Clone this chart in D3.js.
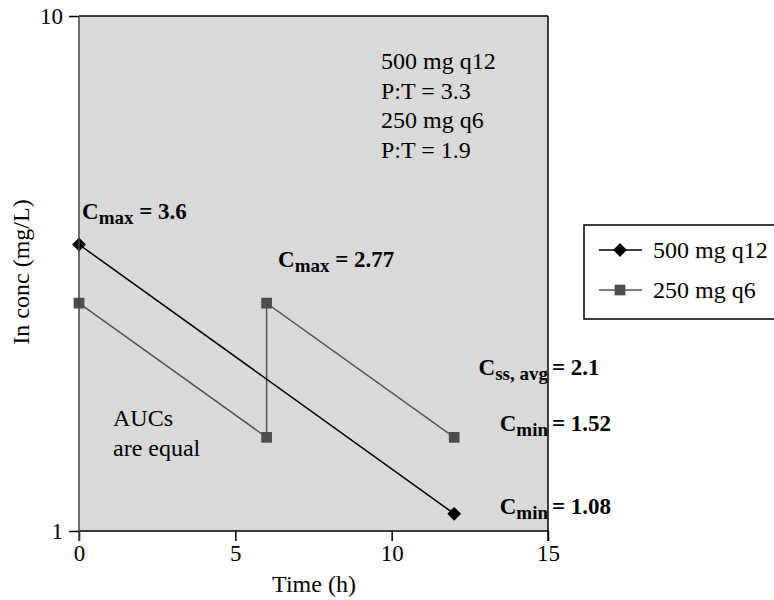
<!DOCTYPE html>
<html>
<head>
<meta charset="utf-8">
<script src="https://cdn.jsdelivr.net/npm/d3@7/dist/d3.min.js"></script>
<style>
  html, body { margin: 0; padding: 0; background: #fff; }
  svg { display: block; }
</style>
</head>
<body>
<div id="chart"></div>
<script>
// dosing regimens, conc on log scale
const series = ["500 mg q12", "250 mg q6"];
const times500 = [0, 12];
const conc500 = [3.6, 1.08];
const times250 = [0, 6, 6, 12];
const conc250 = [2.77, 1.52, 2.77, 1.52];
const xTicks = [0, 5, 10, 15];
const yTicks = [1, 10];
const infoLines = ["500 mg q12", "P:T = 3.3", "250 mg q6", "P:T = 1.9"];

const FONT = "'Liberation Serif', 'Times New Roman', serif";
const totalW = 774, totalH = 600;
const margin = { top: 16, right: 226, bottom: 69, left: 79 };
const W = totalW - margin.left - margin.right;
const H = totalH - margin.top - margin.bottom;

const svg = d3.select("#chart").append("svg")
  .attr("width", totalW).attr("height", totalH);
const g = svg.append("g").attr("transform", `translate(${margin.left},${margin.top})`);

const x = d3.scaleLinear().domain([0, 15]).range([0, W]);
const y = d3.scaleLog().domain([1, 10]).range([H, 0]);

g.append("rect").attr("width", W).attr("height", H).attr("fill", "#d9d9d9");

// axes
const xAxis = g.append("g").attr("transform", `translate(0,${H})`)
  .call(d3.axisBottom(x).tickValues(xTicks).tickSize(10).tickPadding(4).tickFormat(d3.format("d")));
const yAxis = g.append("g")
  .call(d3.axisLeft(y).tickValues(yTicks).tickSize(10).tickPadding(6).tickFormat(d3.format("d")));
[xAxis, yAxis].forEach(a => {
  a.select(".domain").remove();
  a.selectAll("line").attr("stroke", "#000").attr("stroke-width", 1.5);
  a.selectAll("text").attr("fill", "#000")
    .style("font-family", FONT).style("font-size", "23px");
});
yAxis.selectAll("text").attr("dy", "0.34em");

// frame
g.append("line").attr("x1", 0).attr("x2", W).attr("y1", 0).attr("y2", 0)
  .attr("stroke", "#000").attr("stroke-width", 1.5);
g.append("line").attr("x1", 0).attr("x2", W).attr("y1", H).attr("y2", H)
  .attr("stroke", "#000").attr("stroke-width", 1.5);

const line = d3.line().x(d => x(d[0])).y(d => y(d[1]));
const pts500 = times500.map((t, i) => [t, conc500[i]]);
const pts250 = times250.map((t, i) => [t, conc250[i]]);

g.append("path").datum(pts250).attr("d", line)
  .attr("fill", "none").attr("stroke", "#555").attr("stroke-width", 1.5);
g.append("path").datum(pts500).attr("d", line)
  .attr("fill", "none").attr("stroke", "#000").attr("stroke-width", 1.5);

const sq = d3.symbol().type(d3.symbolSquare).size(115);
const dia = d3.symbol().type(d3.symbolSquare).size(95);

g.selectAll("path.sq").data(pts250).join("path").attr("class", "sq")
  .attr("d", sq).attr("fill", "#4d4d4d")
  .attr("transform", d => `translate(${x(d[0])},${y(d[1])})`);
g.selectAll("path.dia").data(pts500).join("path").attr("class", "dia")
  .attr("d", dia).attr("fill", "#000")
  .attr("transform", d => `translate(${x(d[0])},${y(d[1])}) rotate(45)`);

// left frame line on top
g.append("line").attr("x1", 0).attr("x2", 0).attr("y1", 0).attr("y2", H + 10)
  .attr("stroke", "#444").attr("stroke-width", 1.5);

// info text block
const info = g.append("text").attr("fill", "#000")
  .style("font-family", FONT).style("font-size", "24px");
infoLines.forEach((t, i) => {
  info.append("tspan").attr("x", 302).attr("y", 53 + i * 29.5).text(t);
});

g.append("text").attr("fill", "#000").style("font-family", FONT).style("font-size", "24px")
  .call(t => {
    t.append("tspan").attr("x", 34).attr("y", 410).text("AUCs");
    t.append("tspan").attr("x", 34).attr("y", 440).text("are equal");
  });

// C labels (bold, subscripted)
function cLabel(px, py, sub, rest, anchorRight) {
  const t = g.append("text").attr("fill", "#000")
    .style("font-family", FONT).style("font-weight", "bold").style("font-size", "23px");
  t.attr("x", px).attr("y", py).attr("text-anchor", anchorRight ? "end" : "start");
  t.append("tspan").text("C");
  t.append("tspan").attr("dy", 5).style("font-size", "19px").text(sub);
  if (rest) t.append("tspan").attr("dy", -5).text(rest);
}
cLabel(3, 203, "max", " = 3.6");
cLabel(199, 251, "max", " = 2.77");
[["ss, avg", "= 2.1", 359], ["min", "= 1.52", 415], ["min", "= 1.08", 498]].forEach(([sub, rest, py]) => {
  cLabel(W, py, sub, null, true);
  g.append("text").attr("x", W + 4).attr("y", py).attr("fill", "#000")
    .style("font-family", FONT).style("font-weight", "bold").style("font-size", "23px")
    .text(rest);
});

g.append("line").attr("x1", W).attr("x2", W).attr("y1", 0).attr("y2", H + 10)
  .attr("stroke", "#000").attr("stroke-width", 1.5);

// axis titles
g.append("text").attr("x", 235).attr("y", H + 61).attr("text-anchor", "middle")
  .attr("fill", "#000").style("font-family", FONT).style("font-size", "24px")
  .text("Time (h)");
g.append("text").attr("transform", "rotate(-90)").attr("x", -256).attr("y", -50)
  .attr("text-anchor", "middle").attr("fill", "#000")
  .style("font-family", FONT).style("font-size", "24px")
  .text("In conc (mg/L)");

// legend
const lg = svg.append("g");
lg.append("rect").attr("x", 584).attr("y", 225).attr("width", 200).attr("height", 94)
  .attr("fill", "#fff").attr("stroke", "#000").attr("stroke-width", 1.5);
series.forEach((name, i) => {
  const ly = 250 + i * 40;
  const col = i === 0 ? "#000" : "#555";
  lg.append("line").attr("x1", 599).attr("x2", 642).attr("y1", ly).attr("y2", ly)
    .attr("stroke", col).attr("stroke-width", 1.5);
  lg.append("path").attr("d", i === 0 ? dia : sq).attr("fill", i === 0 ? "#000" : "#4d4d4d")
    .attr("transform", `translate(620,${ly})` + (i === 0 ? " rotate(45)" : ""));
  lg.append("text").attr("x", 653).attr("y", ly + 8).attr("fill", "#000")
    .style("font-family", FONT).style("font-size", "24px").text(name);
});
</script>
</body>
</html>
